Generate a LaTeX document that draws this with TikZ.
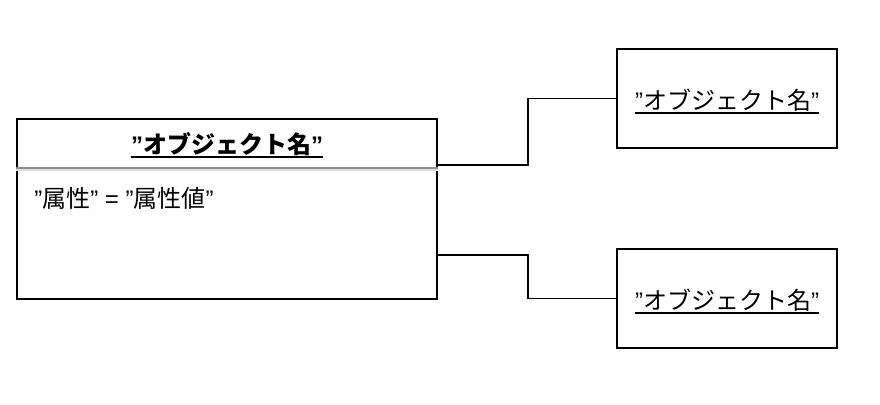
\documentclass[tikz,border=0pt]{standalone}
\usepackage{fontspec}
\setmainfont{Liberation Sans}
\newfontfamily\jp{Noto Sans CJK JP}
\usetikzlibrary{positioning}
\definecolor{SepGray}{RGB}{140,140,140}
\definecolor{ShadeGray}{RGB}{222,222,222}
\newcommand\objul[1]{\setbox0\hbox{#1}\leavevmode
  \rlap{\vrule width \wd0 height -2.5pt depth 4.5pt}\box0}

\begin{document}
\begin{tikzpicture}[x=1pt, y=-1pt,
  objbox/.style={
    draw,
    line width=1.8pt,
    minimum width=420pt,
    minimum height=180pt,
    inner sep=0pt,
  },
  refbox/.style={
    draw,
    line width=1.8pt,
    minimum width=220pt,
    minimum height=99pt,
    inner sep=0pt,
  },
  objtext/.style={font=\fontsize{24}{28}\selectfont, inner sep=0pt},
  titletext/.style={font=\fontsize{24}{28}\selectfont\bfseries, inner sep=0pt},
  sep/.style={line width=2pt, SepGray},
  shade/.style={line width=2pt, ShadeGray},
  link/.style={line width=1.8pt},
]
  \useasboundingbox (0,0) rectangle (880,404);

  % object with attributes
  \node[objbox] (obj) at (227,209) {};
  \node[titletext, below=14pt of obj.north] (title)
    {\objul{”{\jp\bfseries オブジェクト名}”}};
  \draw[shade] ([yshift=-52pt]obj.north west) -- ([yshift=-52pt]obj.north east);
  \draw[sep] ([yshift=-50pt]obj.north west) -- ([yshift=-50pt]obj.north east);
  \node[objtext, anchor=north west] (attr) at ([xshift=18pt,yshift=-69pt]obj.north west)
    {”{\jp 属性}” = ”{\jp 属性値}”};

  % linked objects
  \node[refbox] (ref1) at (727,98.5) {};
  \node[refbox] (ref2) at (727,298.5) {};
  \node[objtext] (name1) at ([yshift=-3pt]ref1.center) {\objul{”{\jp オブジェクト名}”}};
  \node[objtext] (name2) at ([yshift=-3pt]ref2.center) {\objul{"{\jp オブジェクト名}"}};

  \draw[link] ([yshift=44pt]obj.east) -- ++(90,0) |- (ref1.west);
  \draw[link] ([yshift=-46pt]obj.east) -- ++(90,0) |- (ref2.west);
\end{tikzpicture}
\end{document}
